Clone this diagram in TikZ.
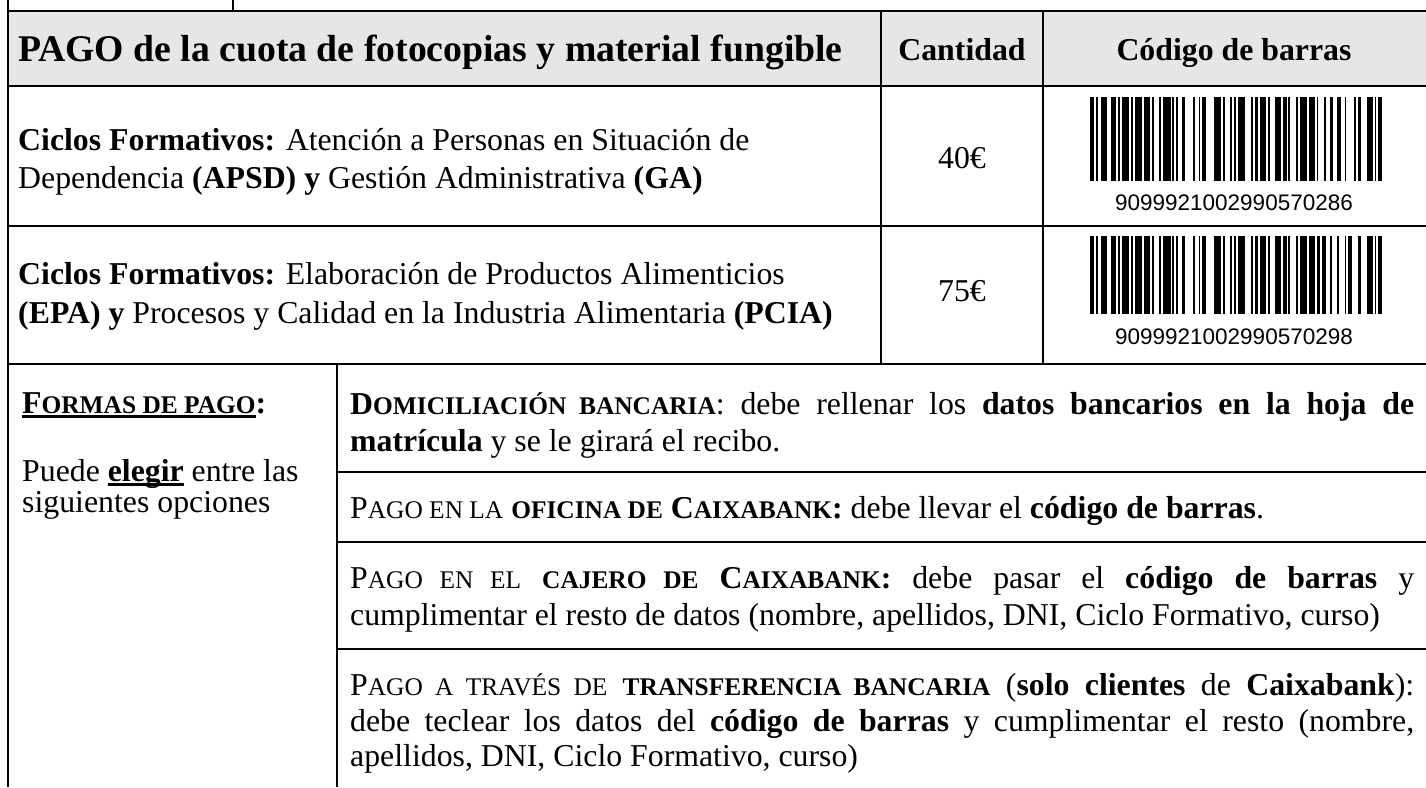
\documentclass[tikz,border=0pt]{standalone}
\usepackage{fontspec}
\setmainfont{Liberation Serif}
\newfontfamily\bcfont{Liberation Sans}
\definecolor{hdr}{HTML}{E6E6E6}
\newcommand\bodysize{\fontsize{31.8}{38}\selectfont}
\newcommand\headsize{\fontsize{37.7}{44}\selectfont}
\newcommand\scs[1]{{\fontsize{25.4}{30}\selectfont #1}}
\newcommand\ulx[1]{\leavevmode\setbox0\hbox{#1}\rlap{\rule[-4.5pt]{\wd0}{2.4pt}}\box0\relax}
\newcommand\jline[1]{\makebox[1064pt][s]{#1}}
\newcommand\drawbarcode[4]{%
  \gdef\bcx{#1}\gdef\bcb{1}%
  \foreach \w in {#4}{%
    \ifnum\bcb=1 \fill[black] (\bcx,#2) rectangle ++(\w*1.872,#3);\fi
    \pgfmathsetmacro\nx{\bcx+\w*1.872}\xdef\bcx{\nx}%
    \pgfmathtruncatemacro\nb{1-\bcb}\xdef\bcb{\nb}%
  }}
\begin{document}
\begin{tikzpicture}[x=1pt,y=-1pt,
  rule/.style={line width=2pt},
  txt/.style={anchor=base west,inner sep=0pt,font=\bodysize},
  ctr/.style={anchor=base,inner sep=0pt,font=\bodysize},
  bcnum/.style={anchor=base,inner sep=0pt,font=\bcfont\fontsize{22.5}{26}\selectfont}]
\useasboundingbox (0,0) rectangle (1426,787);
\fill[white] (0,0) rectangle (1426,787);
% header fill
\fill[hdr] (8,11) rectangle (1426,86);
% lines
\draw[rule] (8,0) -- (8,787);
\draw[rule] (233,0) -- (233,11);
\draw[rule] (8,11) -- (1426,11);
\draw[rule] (8,86) -- (1426,86);
\draw[rule] (8,226) -- (1426,226);
\draw[rule] (8,364) -- (1426,364);
\draw[rule] (881,11) -- (881,364);
\draw[rule] (1043,11) -- (1043,364);
\draw[rule] (337,364) -- (337,787);
\draw[rule] (337,472) -- (1426,472);
\draw[rule] (337,542) -- (1426,542);
\draw[rule] (337,649) -- (1426,649);
% header
\node[txt,font=\headsize\bfseries] (h1) at (18,61) {PAGO de la cuota de fotocopias y material fungible};
\node[ctr,font=\bodysize\bfseries] (h2) at (962,60) {Cantidad};
\node[ctr,font=\bodysize\bfseries] (h3) at (1234,60) {Código de barras};
% row 1
\node[txt] (r1a) at (18,150) {\textbf{Ciclos Formativos:} Atención a Personas en Situación de};
\node[txt] (r1b) at (18,188) {Dependencia \textbf{(APSD) y} Gestión Administrativa \textbf{(GA)}};
\node[ctr] (r1c) at (962,168) {40€};
\drawbarcode{1090}{97}{84}{2,1,1,2,3,2, 3,1,1,1,4,1, 1,1,4,1,3,1, 1,3,1,1,4,1, 1,1,1,2,2,4, 1,2,1,1,2,4, 4,1,1,3,1,1, 1,1,4,3,1,1, 2,1,3,1,1,3, 3,1,2,1,1,3, 1,1,4,1,3,1, 1,3,1,2,2,2, 2,2,1,4,1,1, 2,3,3,1,1,1,2}
\node[bcnum] (r1d) at (1234,210) {9099921002990570286};
% row 2
\node[txt] (r2a) at (18,284) {\textbf{Ciclos Formativos:} Elaboración de Productos Alimenticios};
\node[txt] (r2b) at (18,323) {\textbf{(EPA) y} Procesos y Calidad en la Industria Alimentaria \textbf{(PCIA)}};
\node[ctr] (r2c) at (962,301) {75€};
\drawbarcode{1090}{236}{78}{2,1,1,2,3,2, 3,1,1,1,4,1, 1,1,4,1,3,1, 1,3,1,1,4,1, 1,1,1,2,2,4, 1,2,1,1,2,4, 4,1,1,3,1,1, 1,1,4,3,1,1, 2,1,3,1,1,3, 3,1,2,1,1,3, 1,1,4,1,3,1, 2,1,2,2,1,3, 1,3,1,1,2,3, 2,3,3,1,1,1,2}
\node[bcnum] (r2d) at (1234,344) {9099921002990570298};
% bottom left
\node[txt] (f1) at (22,413) {\textbf{\ulx{F\scs{ORMAS DE PAGO}}:}};
\node[txt] (f2) at (22,481) {Puede \ulx{\textbf{elegir}} entre las};
\node[txt] (f3) at (22,512) {siguientes opciones};
% options
\node[txt] (o1a) at (350,414) {\jline{\textbf{D\scs{OMICILIACIÓN BANCARIA}}: debe rellenar los \textbf{datos bancarios en la hoja de}}};
\node[txt] (o1b) at (350,451) {\textbf{matrícula} y se le girará el recibo.};
\node[txt] (o2) at (350,518) {P\scs{AGO EN LA} \textbf{\scs{OFICINA DE} C\scs{AIXABANK}:} debe llevar el \textbf{código de barras}.};
\node[txt] (o3a) at (350,588) {\jline{P\scs{AGO EN EL} \textbf{\scs{CAJERO DE} C\scs{AIXABANK}:} debe pasar el \textbf{código de barras} y}};
\node[txt] (o3b) at (350,625) {cumplimentar el resto de datos (nombre, apellidos, DNI, Ciclo Formativo, curso)};
\node[txt] (o4a) at (350,695) {\jline{P\scs{AGO A TRAVÉS DE} \textbf{\scs{TRANSFERENCIA BANCARIA}} (\textbf{solo clientes} de \textbf{Caixabank}):}};
\node[txt] (o4b) at (350,731) {\jline{debe teclear los datos del \textbf{código de barras} y cumplimentar el resto (nombre,}};
\node[txt] (o4c) at (350,766) {apellidos, DNI, Ciclo Formativo, curso)};
\end{tikzpicture}
\end{document}
